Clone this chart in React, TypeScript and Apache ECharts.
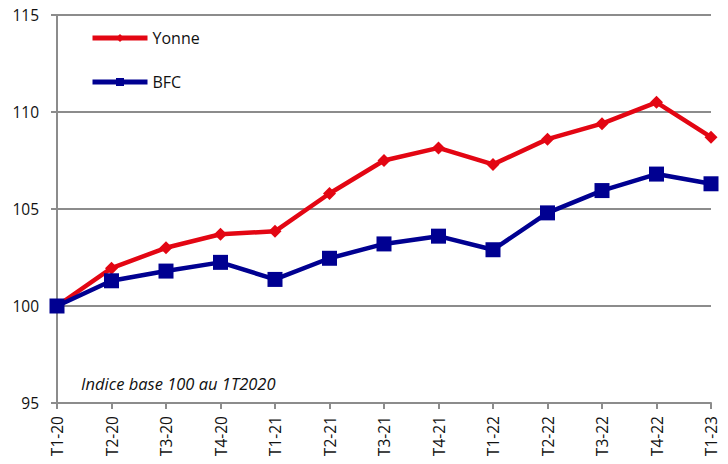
import React, { useEffect, useRef } from "react";
import * as echarts from "echarts";

const categories = ["T1-20", "T2-20", "T3-20", "T4-20", "T1-21", "T2-21", "T3-21", "T4-21", "T1-22", "T2-22", "T3-22", "T4-22", "T1-23"];
const yonne = [100, 101.95, 103.0, 103.7, 103.85, 105.8, 107.5, 108.15, 107.3, 108.6, 109.4, 110.5, 108.7];
const bfc = [100, 101.3, 101.8, 102.25, 101.37, 102.46, 103.2, 103.6, 102.9, 104.8, 105.95, 106.8, 106.3];
const note = "Indice base 100 au 1T2020";

const GREY = "#8c8c8c";
const RED = "#e30613";
const BLUE = "#000091";
const FONT = "Open Sans";

export default function App() {
  const ref = useRef<HTMLDivElement>(null);
  useEffect(() => {
    if (!ref.current) return;
    const chart = echarts.init(ref.current, undefined, { renderer: "svg" });
    chart.setOption({
      animation: false,
      grid: { left: 57, right: 17, top: 15, bottom: 61 },
      legend: {
        orient: "vertical",
        left: 85,
        top: 25,
        itemWidth: 55,
        itemHeight: 10,
        itemGap: 28,
        lineStyle: { width: 5 },
        textStyle: { fontFamily: FONT, fontSize: 16, color: "#111" },
        data: ["Yonne", "BFC"],
      },
      graphic: [
        {
          type: "text",
          left: 81,
          top: 375,
          style: { text: note, fontFamily: FONT, fontStyle: "italic", fontSize: 16.5, fill: "#111" },
        },
      ],
      xAxis: {
        type: "category",
        data: categories,
        boundaryGap: false,
        axisLine: { lineStyle: { color: GREY, width: 2 } },
        axisTick: { show: true, length: 6, alignWithLabel: true, lineStyle: { color: GREY, width: 2 } },
        axisLabel: { rotate: 90, fontFamily: FONT, fontSize: 15.5, color: "#111", margin: 13, interval: 0 },
        splitLine: { show: false },
      },
      yAxis: {
        type: "value",
        min: 95,
        max: 115,
        interval: 5,
        axisLine: { show: true, lineStyle: { color: GREY, width: 2 } },
        axisTick: { show: true, length: 6, lineStyle: { color: GREY, width: 2 } },
        axisLabel: { fontFamily: FONT, fontSize: 15.5, color: "#111", margin: 18 },
        splitLine: { show: true, lineStyle: { color: GREY, width: 2 } },
      },
      series: [
        {
          name: "Yonne",
          type: "line",
          data: yonne,
          symbol: "diamond",
          symbolSize: 13,
          itemStyle: { color: RED },
          lineStyle: { color: RED, width: 4.5 },
          z: 2,
        },
        {
          name: "BFC",
          type: "line",
          data: bfc,
          symbol: "rect",
          symbolSize: 15,
          itemStyle: { color: BLUE },
          lineStyle: { color: BLUE, width: 4.5 },
          z: 3,
        },
      ],
    });
    return () => chart.dispose();
  }, []);
  return <div ref={ref} style={{ width: 728, height: 464, position: "absolute", left: 0, top: 0 }} />;
}
